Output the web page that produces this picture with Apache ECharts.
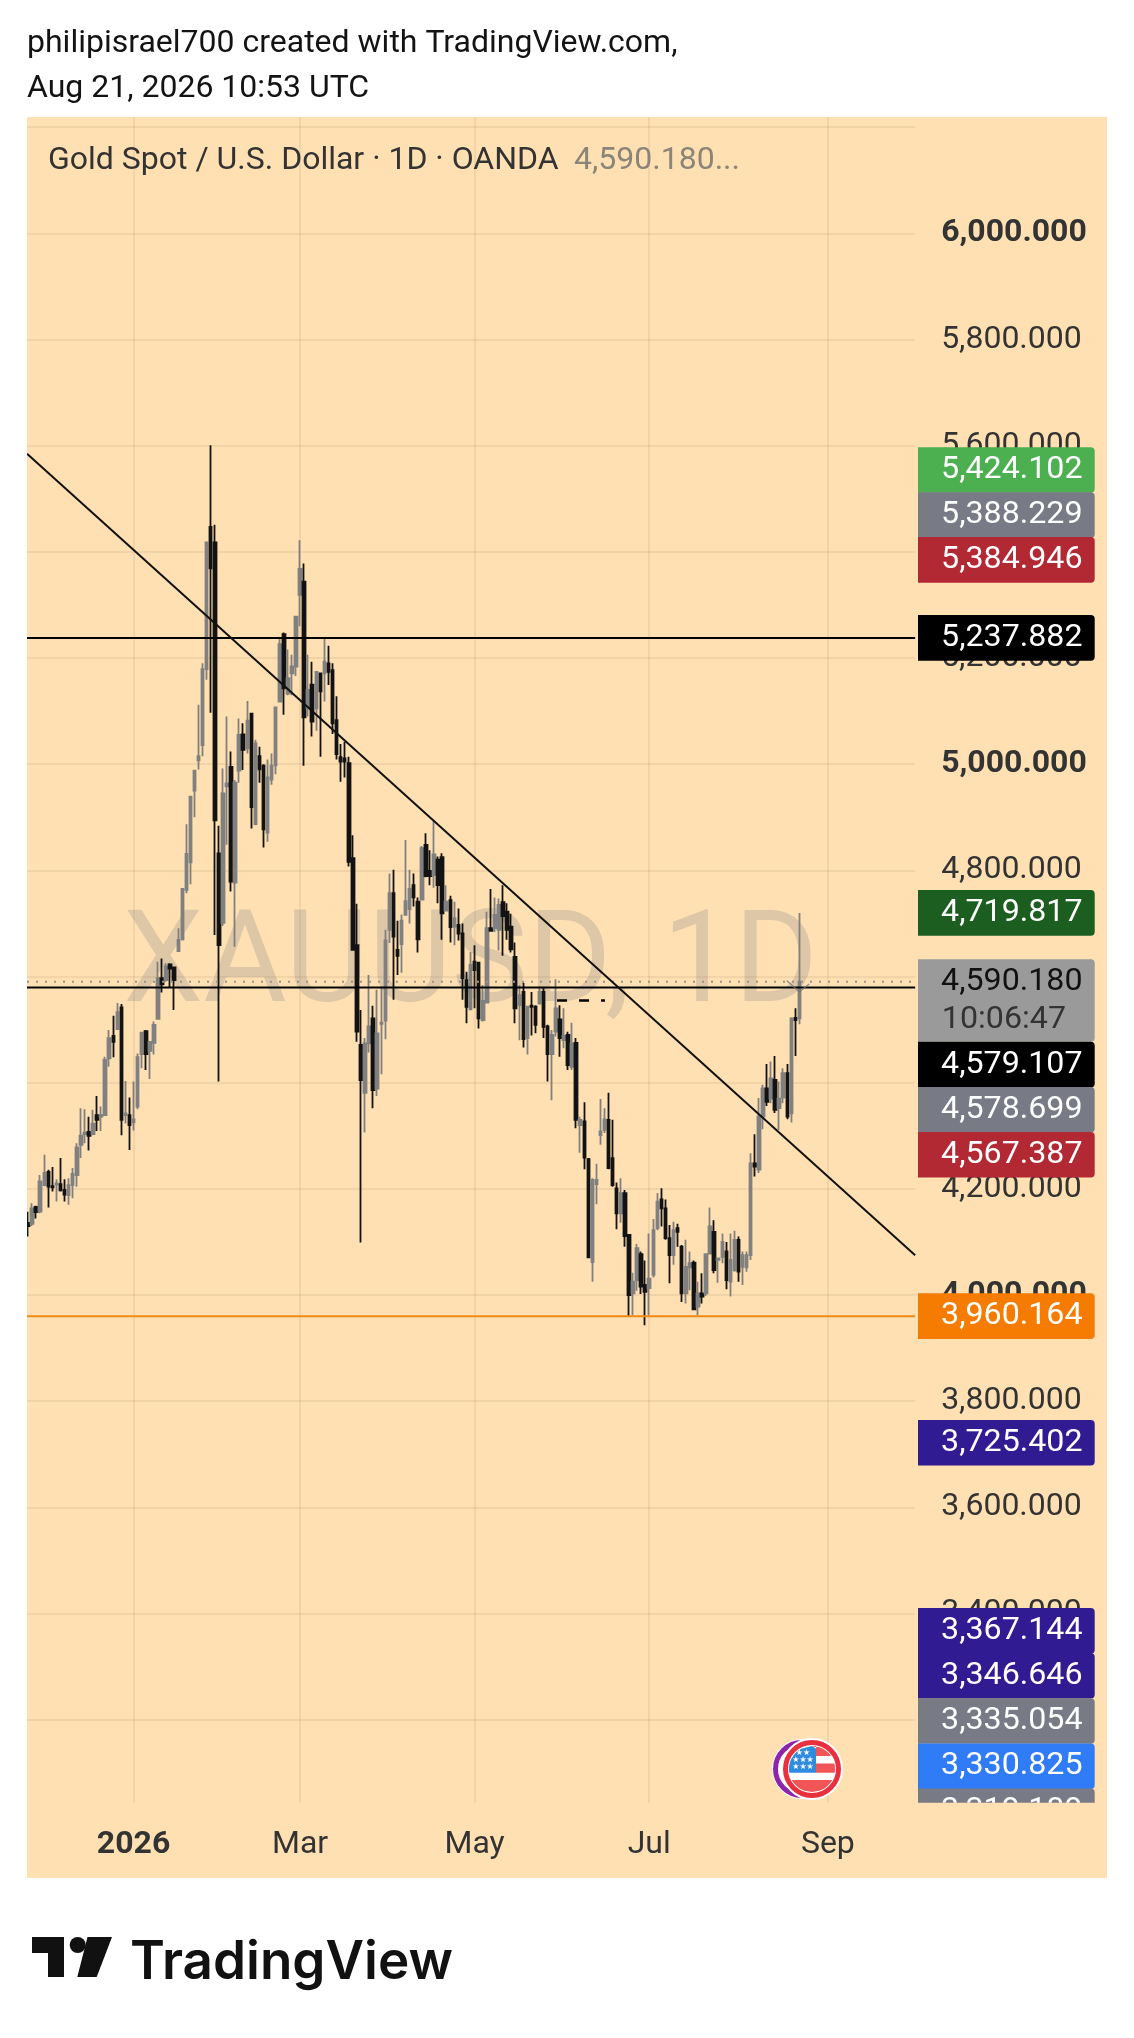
<!DOCTYPE html>
<html><head><meta charset="utf-8"><title>XAUUSD 1D</title>
<style>html,body{margin:0;padding:0;background:#fff}#c{width:1134px;height:2038px}</style>
<script src="https://cdn.jsdelivr.net/npm/echarts@6/dist/echarts.min.js"></script></head>
<body><div id="c"></div><script>
const opens=[4136,4134,4166,4157,4207,4232,4205,4208,4209,4198,4188,4207,4226,4283,4303,4307,4303,4339,4336,4339,4446,4488,4501,4542,4339,4339,4325,4355,4454,4497,4460,4475,4520,4597,4593,4623,4617,4648,4670,4763,4815,4950,5007,5036,5179,5447,5418,4832,4701,4958,4995,4777,4988,5056,5030,5095,4887,5015,4997,4871,4971,4998,5118,5245,5133,5171,5184,5319,5344,5105,5150,5105,5171,5171,5190,5177,5083,5013,5011,5002,4823,4659,4471,4381,4474,4521,4389,4511,4517,4688,4757,4650,4661,4716,4727,4772,4741,4745,4848,4799,4791,4820,4825,4724,4744,4694,4697,4681,4593,4538,4628,4626,4518,4551,4691,4691,4688,4740,4722,4694,4637,4546,4571,4484,4545,4543,4549,4571,4506,4454,4496,4519,4480,4490,4430,4475,4320,4327,4256,4062,4209,4301,4311,4330,4258,4201,4154,4192,4113,4003,4028,4077,4019,4013,4038,4126,4180,4163,4107,4075,4126,4091,4003,4052,4061,3978,4003,4003,4078,4119,4066,4072,4082,4025,4047,4104,4053,4052,4075,4248,4236,4336,4389,4370,4405,4352,4372,4418,4342,4522,4521];
const closes=[4130,4163,4156,4214,4230,4204,4203,4210,4197,4189,4207,4228,4278,4300,4306,4300,4323,4330,4339,4443,4484,4477,4533,4330,4342,4320,4331,4448,4494,4454,4477,4509,4597,4585,4619,4615,4593,4669,4765,4831,4939,4988,5015,5179,5418,5369,4894,4659,4945,4964,4779,4965,5055,5027,5082,4919,5039,4990,4877,4975,4997,5107,5226,5143,5162,5184,5278,5368,5088,5140,5080,5174,5137,5193,5174,5077,5019,5005,5005,4816,4650,4496,4405,4474,4506,4386,4493,4513,4668,4757,4675,4639,4705,4742,4765,4749,4670,4842,4789,4789,4830,4772,4719,4741,4693,4710,4681,4597,4543,4622,4612,4521,4554,4691,4686,4716,4735,4714,4688,4651,4540,4565,4482,4543,4543,4509,4571,4505,4454,4490,4540,4484,4488,4433,4474,4330,4330,4259,4071,4217,4217,4308,4331,4239,4207,4154,4192,4111,4000,4025,4088,4016,4006,4031,4122,4176,4163,4107,4075,4122,4119,4003,4053,4060,3973,4003,3997,4077,4129,4047,4069,4100,4028,4066,4104,4044,4075,4075,4248,4242,4336,4389,4364,4408,4349,4370,4418,4336,4521,4518,4590.18];
const lows=[4110,4130,4144,4154,4205,4165,4195,4176,4195,4176,4170,4182,4204,4258,4286,4272,4301,4309,4309,4339,4430,4448,4501,4301,4323,4273,4310,4350,4427,4424,4407,4453,4520,4570,4590,4580,4537,4647,4668,4757,4774,4900,4990,5015,5159,5097,4678,4402,4695,4848,4760,4656,4965,4989,5020,4879,4885,4965,4843,4854,4961,4981,5118,5093,5130,5130,5166,5260,4997,5090,5052,5063,5014,5118,5149,5057,5009,4967,4975,4807,4650,4477,4099,4306,4457,4352,4375,4416,4482,4663,4556,4603,4607,4717,4700,4732,4645,4745,4787,4772,4767,4738,4669,4725,4664,4659,4668,4556,4512,4538,4540,4502,4515,4549,4688,4684,4649,4639,4669,4645,4512,4480,4466,4453,4489,4493,4549,4484,4402,4367,4487,4449,4465,4424,4424,4314,4268,4237,4069,4025,4171,4283,4305,4237,4204,4124,4136,4091,3960,3962,4008,4002,3943,3962,4033,4122,4129,4104,4022,4057,4091,3987,3984,4009,3972,3962,3984,3998,4078,4041,4023,4060,4011,3997,4044,4025,4019,4044,4066,4223,4230,4312,4356,4361,4343,4311,4361,4331,4325,4450,4510];
const highs=[4157,4173,4168,4226,4264,4236,4241,4218,4258,4218,4220,4239,4286,4352,4350,4336,4349,4375,4355,4449,4499,4526,4550,4548,4403,4372,4402,4455,4496,4499,4477,4515,4628,4634,4625,4625,4619,4691,4766,4887,4939,4989,5112,5190,5419,5601,5451,4884,4992,5090,5024,4970,5086,5077,5119,5095,5046,5033,5000,5009,5020,5107,5237,5248,5216,5206,5279,5422,5378,5206,5193,5174,5172,5237,5223,5190,5128,5038,5042,5014,4866,4737,4537,4484,4603,4545,4575,4581,4688,4794,4801,4705,4717,4857,4801,4794,4749,4846,4870,4838,4892,4826,4832,4772,4752,4741,4728,4700,4609,4646,4659,4628,4584,4722,4765,4749,4747,4772,4738,4718,4664,4584,4588,4543,4571,4546,4581,4578,4509,4499,4595,4546,4540,4496,4513,4484,4336,4363,4258,4220,4247,4369,4352,4381,4330,4212,4220,4198,4115,4042,4096,4082,4065,4116,4143,4192,4201,4180,4132,4138,4134,4094,4104,4082,4065,4025,4041,4078,4165,4141,4069,4116,4100,4116,4121,4110,4082,4082,4267,4303,4371,4396,4435,4440,4450,4402,4427,4435,4523,4540,4719.82];
const monthBars=[26,67,110,153,197];
const monthLabels=['2026','Mar','May','Jul','Sep'];
const tagValues=[5424.102,5388.229,5384.946,5237.882,4719.817,4590.180,4579.107,4578.699,4567.387,3960.164,3725.402,3367.144,3346.646,3335.054,3330.825,3319.189];
const countdownText='10:06:47';
const levelPrices=[5237.882,4579.107,3960.164];
const lastPrice=4590.180;
const trendPrices=[5585,4075];
const dashPrice=4555;

/* presentation */
const FONT='Roboto';
const tagColors=['#4CAF50','#787B86','#B22833','#000000','#1B5E20','#9A9A9A','#000000','#787B86','#B22833','#F57C00','#311B92','#311B92','#311B92','#787B86','#2F7CF6','#787B86'];
const tagShift=[-69,-43,0,0,0,0,77,122,161,0,2,0,34,73,116,155];
const levelColors=['#000','#000','#F08A12'];
const BARS=219, Y_MIN=3000, Y_MAX=6219;
const XL=-0.25, XR=BARS-0.5;
const categories=Array.from({length:BARS},(_,i)=>{const k=monthBars.indexOf(i);return k<0?'':monthLabels[k];});
const fmt=v=>Number(v).toLocaleString('en-US',{minimumFractionDigits:3,maximumFractionDigits:3});
const gridColor='rgba(135,105,75,0.14)';
const line=(data,color,width,type,z)=>({type:'line',xAxisIndex:1,yAxisIndex:0,data,showSymbol:false,silent:true,z:z||6,clip:true,animation:false,lineStyle:{color,width,type:type||'solid'}});
/* US flag inside the red ring: a band of the disc between two heights */
const disc=(x0,x1,y0,y1)=>{const cx=812,cy=1769,r=23,L=[],R=[];
 for(let y=y0;y<=y1+0.01;y+=(y1-y0)/10){const d=Math.sqrt(Math.max(0,r*r-(y-cy)*(y-cy)));L.push([Math.max(x0,cx-d),y]);R.unshift([Math.min(x1,cx+d),y]);}
 return L.concat(R);};
const flagPiece=(x0,x1,y0,y1,fill)=>({type:'polygon',z:22,silent:true,shape:{points:disc(x0,x1,y0,y1)},style:{fill}});

const chart=echarts.init(document.getElementById('c'),null,{renderer:'canvas'});
const starRows=[['★★',1753],['★★★',1760],['★★★',1767]];
chart.setOption({
 animation:false,backgroundColor:'#fff',
 grid:{left:26,top:117.1,width:889.14,height:1708.7},
 xAxis:[{type:'category',data:categories,boundaryGap:true,axisLine:{show:false},axisTick:{show:false},splitLine:{show:false},
   axisLabel:{interval:(i,v)=>v!=='',margin:3,fontFamily:FONT,fontSize:32,color:'#333',hideOverlap:false,showMinLabel:true,showMaxLabel:true,
     formatter:v=>v==='2026'?'{b|2026}':v,rich:{b:{fontFamily:FONT,fontSize:32,fontWeight:700,color:'#333'}}}},
  {type:'value',min:-0.5,max:BARS-0.5,show:false,splitLine:{show:false}}],
 yAxis:{type:'value',position:'right',min:Y_MIN,max:Y_MAX,interval:200,scale:true,axisLine:{show:false},axisTick:{show:false},
   splitLine:{show:true,showMinLine:false,showMaxLine:false,lineStyle:{color:gridColor,width:1.5}},
   axisLabel:{margin:26,align:'left',fontFamily:FONT,fontSize:32,color:'#333',showMinLabel:false,showMaxLabel:false,
     formatter:v=>(v%200!==0||v>=6200||v<=3000)?'':(v%1000===0?'{b|'+fmt(v)+'}':fmt(v)),
     rich:{b:{fontFamily:FONT,fontSize:32,fontWeight:700,color:'#333'}}}},
 series:[
  {type:'candlestick',xAxisIndex:0,yAxisIndex:0,barWidth:3,z:4,clip:true,silent:true,
   data:opens.map((o,i)=>[o,closes[i],lows[i],highs[i]]),
   itemStyle:{color:'#808080',color0:'#131313',borderColor:'#808080',borderColor0:'#131313',borderWidth:1.8}},
  {type:'line',xAxisIndex:1,yAxisIndex:0,data:[],silent:true,z:1,
   markLine:{silent:true,symbol:'none',label:{show:false},animation:false,lineStyle:{color:gridColor,width:1.5,type:'solid'},
    data:monthBars.map(b=>[{coord:[b,Y_MAX]},{coord:[b,3043]}])}},
  line([[XL,lastPrice],[XR,lastPrice]],'#9b9488',2,[2,7],5),
  ...levelPrices.map((p,i)=>line([[XL,p],[XR,p]],levelColors[i],2)),
  line([[XL,trendPrices[0]],[XR,trendPrices[1]]],'#111',2),
  line([[130.3,dashPrice],[142.1,dashPrice]],'#000',2.5,[10,12]),
  line([[186.9,4592],[190,4571],[192.4,4586]],'rgba(110,113,124,0.8)',1.2),
  {type:'custom',xAxisIndex:0,yAxisIndex:0,z:10,clip:false,silent:true,data:tagValues.map((v,i)=>[i,v]),encode:{x:0,y:1},
   renderItem(params,api){
    const i=api.value(0),v=api.value(1);
    const cy=api.coord([0,v])[1]+tagShift[i];
    const isLast=v===lastPrice;
    const x=918,w=176.7,h=isLast?82.4:45.6,top=isLast?959.3:cy-h/2;
    const font='32.2px '+FONT;
    const kids=[{type:'rect',shape:{x,y:top,width:w,height:h,r:[0,4,4,0]},style:{fill:tagColors[i]}}];
    kids.push({type:'text',style:{text:fmt(v),x:1082.5,y:cy,align:'right',verticalAlign:'middle',font,fill:isLast?'#111':'#fff'}});
    if(isLast)kids.push({type:'text',style:{text:countdownText,x:1066,y:1020,align:'right',verticalAlign:'middle',font,fill:'#333'}});
    return {type:'group',clipPath:{type:'rect',shape:{x:900,y:100,width:220,height:1702.7}},children:kids};
   }}
 ],
 graphic:[
  {type:'rect',z:-10,silent:true,shape:{x:27,y:117,width:1080,height:1761},style:{fill:'#FFE0B2'}},
  {type:'rect',z:8,silent:true,shape:{x:0,y:117,width:27,height:1761},style:{fill:'#fff'}},
  {type:'text',z:-5,silent:true,style:{text:'XAUUSD, 1D',x:470.5,y:969,align:'center',verticalAlign:'middle',font:'128px '+FONT,fill:'rgba(120,123,134,0.25)'}},
  {type:'text',z:20,style:{text:'philipisrael700 created with TradingView.com,',x:27,y:43.5,verticalAlign:'middle',font:'32px '+FONT,fill:'#131313'}},
  {type:'text',z:20,style:{text:'Aug 21, 2026 10:53 UTC',x:27,y:88.5,verticalAlign:'middle',font:'32px '+FONT,fill:'#131313'}},
  {type:'text',z:20,style:{text:'Gold Spot / U.S. Dollar · 1D · OANDA',x:48,y:160.5,verticalAlign:'middle',font:'32px '+FONT,fill:'#333'}},
  {type:'text',z:20,style:{text:'4,590.180...',x:574,y:160.5,verticalAlign:'middle',font:'32px '+FONT,fill:'#8a8578'}},
  {type:'circle',z:20,shape:{cx:802,cy:1769,r:30},style:{fill:'#fff'}},
  {type:'circle',z:20,shape:{cx:802,cy:1769,r:26.5},style:{fill:'#fff',stroke:'#8E24AA',lineWidth:5}},
  {type:'circle',z:21,shape:{cx:812,cy:1769,r:31},style:{fill:'#fff'}},
  {type:'circle',z:21,shape:{cx:812,cy:1769,r:26.5},style:{fill:'#fff',stroke:'#E8303F',lineWidth:5}},
  flagPiece(780,816,1746,1772.7,'#2E8BE0'),
  flagPiece(816,840,1746,1756,'#F25555'),
  flagPiece(816,840,1763.5,1772.7,'#F25555'),
  flagPiece(780,840,1780,1792,'#F25555'),
  ...starRows.map(r=>({type:'text',z:23,style:{text:r[0],x:803,y:r[1],align:'center',verticalAlign:'middle',font:'8px "DejaVu Sans"',fill:'#fff'}})),
  {type:'polygon',z:20,shape:{points:[[32,1937],[64,1937],[64,1977],[48,1977],[48,1953],[32,1953]]},style:{fill:'#111'}},
  {type:'circle',z:20,shape:{cx:77.7,cy:1945,r:8},style:{fill:'#111'}},
  {type:'polygon',z:20,shape:{points:[[87.5,1937],[112,1937],[96.7,1977],[77.3,1977]]},style:{fill:'#111'}},
  {type:'text',z:20,style:{text:'TradingView',x:130,y:1963,verticalAlign:'middle',font:'600 53px Inter',fill:'#111'}}
 ]
});
</script></body></html>
